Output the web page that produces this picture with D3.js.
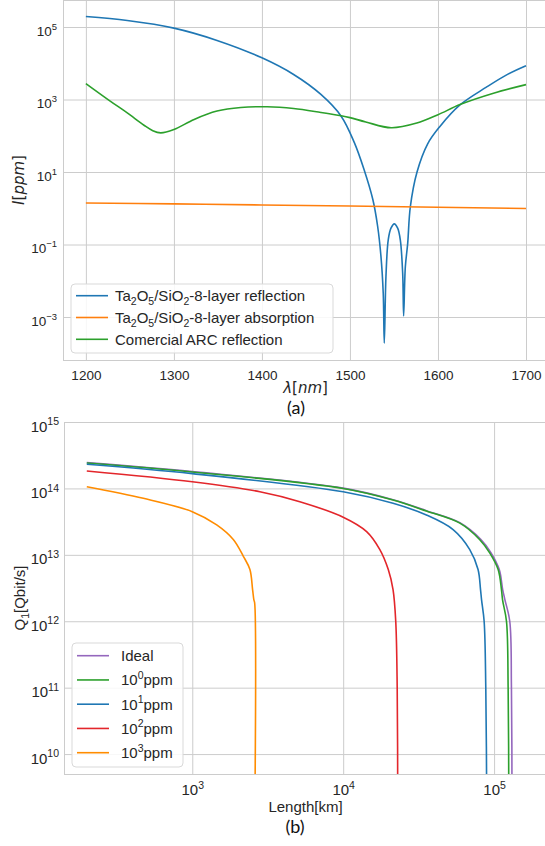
<!DOCTYPE html>
<html>
<head>
<meta charset="utf-8">
<script src="https://cdn.jsdelivr.net/npm/d3@7"></script>
<style>
  body { margin: 0; background: #fff; }
  svg { display: block; font-family: "Liberation Sans", Arial, sans-serif; }
</style>
</head>
<body>
<svg id="chart"></svg>
<script>
// ---- data, chart (a): wavelength in nm, values in ppm
const reflWl = [1200, 1247, 1300, 1349, 1400, 1436, 1467, 1490, 1505, 1516, 1526, 1531.4, 1535.2, 1537.8, 1539,
  1540.9, 1543.5, 1546.6, 1550.4, 1554.2, 1557.2, 1559.9, 1561, 1562.9, 1565.6, 1568.6, 1576.2, 1588.3, 1602, 1625, 1655, 1678, 1700];
const reflVal = [1.95e5, 1.51e5, 9.33e4, 4.27e4, 1.41e4, 4.9e3, 1.38e3, 347, 64.6, 11.7, 1.74, 0.324, 0.0479, 0.00457, 1.9e-4,
  0.0132, 0.135, 0.282, 0.372, 0.282, 0.135, 0.0162, 0.00107, 0.024, 0.107, 1.1, 10, 60, 178, 708, 2188, 4786, 8511];

const absWl = [1200, 1300, 1400, 1500, 1600, 1700];
const absVal = [1.40, 1.32, 1.23, 1.15, 1.07, 0.98];

const arcWl = [1200, 1228, 1247, 1266, 1276, 1285, 1300, 1323, 1349, 1376, 1406, 1436, 1467, 1490, 1500, 1518, 1547, 1576, 1600, 1625, 1664, 1700];
const arcVal = [2754, 891, 427, 195, 138, 120, 148, 282, 479, 603, 631, 562, 437, 355, 316, 240, 166, 224, 380, 724, 1514, 2570];

const topLabels = ["Ta|2|O|5|/SiO|2|-8-layer reflection", "Ta|2|O|5|/SiO|2|-8-layer absorption", "Comercial ARC reflection"];
const topColors = ["#1f77b4", "#ff7f0e", "#2ca02c"];
const topXTicks = [1200, 1300, 1400, 1500, 1600, 1700];
const topYExp = [-3, -1, 1, 3, 5];

// ---- data, chart (b): length in km, Q1 in Qbit/s
const idealL = [200, 1000, 1e4, 21400, 35600, 59300, 81500, 95000, 108200, 114000, 118000, 127000, 130300, 131500];
const idealQ = [2.45e14, 1.79e14, 1.01e14, 6.75e13, 4.62e13, 3.05e13, 1.72e13, 1.09e13, 6.0e12, 3.0e12, 2.1e12, 1e12, 1e11, 1e9];

const ppm0L = [200, 1000, 1e4, 21400, 35600, 59300, 80400, 93500, 106400, 111900, 113800, 120800, 123900, 125300];
const ppm0Q = [2.41e14, 1.77e14, 1.0e14, 6.7e13, 4.57e13, 3.0e13, 1.69e13, 1.07e13, 6.0e12, 3.0e12, 2.1e12, 1e12, 1e11, 1e9];

const ppm1L = [200, 1000, 1e4, 21400, 35600, 53500, 69000, 78300, 81300, 82600, 85900, 88100, 89500];
const ppm1Q = [2.31e14, 1.67e14, 8.9e13, 5.97e13, 3.98e13, 2.4e13, 1.2e13, 6.0e12, 3.0e12, 2.1e12, 1e12, 1e11, 1e9];

const ppm2L = [200, 1000, 2805, 5160, 1e4, 14300, 17500, 19900, 21400, 22300, 22800, 23000];
const ppm2Q = [1.83e14, 1.26e14, 8.9e13, 6.3e13, 3.69e13, 2.24e13, 1.2e13, 6.0e12, 3.0e12, 1e12, 1e11, 1e9];

const ppm3L = [200, 474, 1000, 1452, 1870, 2180, 2410, 2510, 2560, 2590, 2595];
const ppm3Q = [1.06e14, 7.1e13, 4.47e13, 2.82e13, 1.7e13, 9.5e12, 6.0e12, 3.0e12, 2.1e12, 1.9e12, 1e9];

const botLabels = ["Ideal", "0", "1", "2", "3"];
const botColors = ["#9467bd", "#2ca02c", "#1f77b4", "#e3262b", "#ff8c00"];
const botXExp = [3, 4, 5];
const botYExp = [10, 11, 12, 13, 14, 15];

const gridColor = "#cccccc";

const svg = d3.select("#chart")
    .attr("width", 545)
    .attr("height", 846);

function zipData(xs, ys) {
    return xs.map((x, i) => ({ x: x, y: ys[i] }));
}

function powText(sel, exp, size) {
    sel.append("tspan").text("10");
    sel.append("tspan")
        .attr("dy", -0.42 * size)
        .attr("font-size", size * 0.7)
        .text(String(exp).replace("-", "\u2212"));
}

// ================= chart (a) =================
const x1 = d3.scaleLinear().domain([1174, 1725]).range([63, 548]);
const y1 = d3.scaleLog().domain([Math.pow(10, -4.186), Math.pow(10, 5.745)]).range([360, 0]);

const gTop = svg.append("g");

gTop.append("clipPath").attr("id", "clipA")
    .append("rect").attr("x", 63).attr("y", 0).attr("width", 485).attr("height", 360);

// grid
const gxA = gTop.append("g")
    .attr("transform", "translate(0,360)")
    .call(d3.axisBottom(x1).tickValues(topXTicks).tickSize(-360).tickFormat(""));
const gyA = gTop.append("g")
    .attr("transform", "translate(63,0)")
    .call(d3.axisLeft(y1).tickValues(topYExp.map(e => Math.pow(10, e))).tickSize(-485).tickFormat(""));
[gxA, gyA].forEach(g => {
    g.select(".domain").remove();
    g.selectAll(".tick line").attr("stroke", gridColor).attr("stroke-width", 1);
});

// tick labels
gxA.selectAll(".tick").append("text")
    .attr("y", 20)
    .attr("fill", "#262626")
    .attr("font-size", 13.5)
    .attr("text-anchor", "middle")
    .text(d => d);
gyA.selectAll(".tick").append("text")
    .attr("x", -6)
    .attr("y", 8)
    .attr("fill", "#262626")
    .attr("font-size", 13.5)
    .attr("text-anchor", "end")
    .each(function(d) { powText(d3.select(this), Math.round(Math.log10(d)), 13.5); });

// spines
gTop.append("line").attr("x1", 63.5).attr("x2", 63.5).attr("y1", 0).attr("y2", 360).attr("stroke", gridColor);
gTop.append("line").attr("x1", 63).attr("x2", 548).attr("y1", 360.5).attr("y2", 360.5).attr("stroke", gridColor);
gTop.append("line").attr("x1", 63).attr("x2", 548).attr("y1", 0.5).attr("y2", 0.5).attr("stroke", gridColor);

const lineA = d3.line()
    .x(d => x1(d.x))
    .y(d => y1(d.y))
    .curve(d3.curveCatmullRom.alpha(0.5));

const topSeries = [zipData(reflWl, reflVal), zipData(absWl, absVal), zipData(arcWl, arcVal)];
topSeries.forEach((s, i) => {
    gTop.append("path")
        .datum(s)
        .attr("d", lineA)
        .attr("clip-path", "url(#clipA)")
        .attr("fill", "none")
        .attr("stroke", topColors[i])
        .attr("stroke-width", 1.6);
});

// axis labels
gTop.append("text")
    .attr("transform", "translate(24,180) rotate(-90)")
    .attr("text-anchor", "middle")
    .attr("font-family", "DejaVu Sans")
    .attr("font-size", 15)
    .attr("fill", "#262626")
    .call(t => {
        t.append("tspan").attr("font-style", "italic").text("I");
        t.append("tspan").text("[");
        t.append("tspan").attr("font-style", "italic").text("ppm");
        t.append("tspan").text("]");
    });

gTop.append("text")
    .attr("x", 305.5)
    .attr("y", 393)
    .attr("text-anchor", "middle")
    .attr("font-family", "DejaVu Sans")
    .attr("font-size", 15)
    .attr("fill", "#262626")
    .call(t => {
        t.append("tspan").attr("font-style", "italic").text("\u03bb");
        t.append("tspan").text("[");
        t.append("tspan").attr("font-style", "italic").text("nm");
        t.append("tspan").text("]");
    });

svg.append("text")
    .attr("x", 296)
    .attr("y", 414)
    .attr("text-anchor", "middle")
    .attr("font-family", "Lato, 'Open Sans', sans-serif")
    .attr("font-size", 18)
    .attr("fill", "#111")
    .text("(a)");

// legend (a)
const legA = gTop.append("g");
legA.append("rect")
    .attr("x", 71).attr("y", 284).attr("width", 262).attr("height", 69)
    .attr("rx", 4)
    .attr("fill", "#fff").attr("fill-opacity", 0.85)
    .attr("stroke", "#d9d9d9");
topLabels.forEach((lab, i) => {
    const yy = 295.7 + i * 21.8;
    legA.append("line")
        .attr("x1", 76).attr("x2", 108).attr("y1", yy).attr("y2", yy)
        .attr("stroke", topColors[i]).attr("stroke-width", 1.6);
    const t = legA.append("text")
        .attr("x", 115).attr("y", yy + 5.5)
        .attr("font-size", 15)
        .attr("fill", "#262626");
    lab.split("|").forEach((part, k) => {
        if (k % 2 === 1) {
            t.append("tspan").attr("dy", 3.5).attr("font-size", 10.5).text(part);
        } else {
            const sp = t.append("tspan").text(part);
            if (k > 0) sp.attr("dy", -3.5);
        }
    });
});

// ================= chart (b) =================
const x2 = d3.scaleLog().domain([Math.pow(10, 2.15), Math.pow(10, 5.45)]).range([64, 562]);
const y2 = d3.scaleLog().domain([Math.pow(10, 9.7), 1e15]).range([774, 422]);

const gBot = svg.append("g");

gBot.append("clipPath").attr("id", "clipB")
    .append("rect").attr("x", 64).attr("y", 422).attr("width", 498).attr("height", 352);

const gxB = gBot.append("g")
    .attr("transform", "translate(0,774)")
    .call(d3.axisBottom(x2).tickValues(botXExp.map(e => Math.pow(10, e))).tickSize(-352).tickFormat(""));
const gyB = gBot.append("g")
    .attr("transform", "translate(64,0)")
    .call(d3.axisLeft(y2).tickValues(botYExp.map(e => Math.pow(10, e))).tickSize(-498).tickFormat(""));
[gxB, gyB].forEach(g => {
    g.select(".domain").remove();
    g.selectAll(".tick line").attr("stroke", gridColor).attr("stroke-width", 1);
});

gxB.selectAll(".tick").append("text")
    .attr("y", 21)
    .attr("fill", "#262626")
    .attr("font-size", 15)
    .attr("text-anchor", "middle")
    .each(function(d) { powText(d3.select(this), Math.round(Math.log10(d)), 15); });
gyB.selectAll(".tick").append("text")
    .attr("x", -5)
    .attr("y", 9)
    .attr("fill", "#262626")
    .attr("font-size", 15)
    .attr("text-anchor", "end")
    .each(function(d) { powText(d3.select(this), Math.round(Math.log10(d)), 15); });

gBot.append("line").attr("x1", 64.5).attr("x2", 64.5).attr("y1", 422).attr("y2", 774).attr("stroke", gridColor);
gBot.append("line").attr("x1", 64).attr("x2", 562).attr("y1", 774.5).attr("y2", 774.5).attr("stroke", gridColor);
gBot.append("line").attr("x1", 64).attr("x2", 562).attr("y1", 422.5).attr("y2", 422.5).attr("stroke", gridColor);

const lineB = d3.line()
    .x(d => x2(d.x))
    .y(d => y2(d.y))
    .curve(d3.curveCatmullRom.alpha(0.5));

const botSeries = [zipData(idealL, idealQ), zipData(ppm0L, ppm0Q), zipData(ppm1L, ppm1Q), zipData(ppm2L, ppm2Q), zipData(ppm3L, ppm3Q)];
botSeries.forEach((s, i) => {
    gBot.append("path")
        .datum(s)
        .attr("d", lineB)
        .attr("clip-path", "url(#clipB)")
        .attr("fill", "none")
        .attr("stroke", botColors[i])
        .attr("stroke-width", 1.6);
});

gBot.append("text")
    .attr("transform", "translate(25,598) rotate(-90)")
    .attr("text-anchor", "middle")
    .attr("font-size", 15)
    .attr("fill", "#262626")
    .call(t => {
        t.append("tspan").text("Q");
        t.append("tspan").attr("dy", 3.5).attr("font-size", 10.5).text("1");
        t.append("tspan").attr("dy", -3.5).text("[Qbit/s]");
    });

gBot.append("text")
    .attr("x", 305.5)
    .attr("y", 812)
    .attr("text-anchor", "middle")
    .attr("font-size", 15)
    .attr("fill", "#262626")
    .text("Length[km]");

svg.append("text")
    .attr("x", 295)
    .attr("y", 833)
    .attr("text-anchor", "middle")
    .attr("font-family", "Lato, 'Open Sans', sans-serif")
    .attr("font-size", 18)
    .attr("fill", "#111")
    .text("(b)");

// legend (b)
const legB = gBot.append("g");
legB.append("rect")
    .attr("x", 72).attr("y", 643).attr("width", 111).attr("height", 124)
    .attr("rx", 4)
    .attr("fill", "#fff").attr("fill-opacity", 0.85)
    .attr("stroke", "#d9d9d9");
botLabels.forEach((lab, i) => {
    const yy = 655.7 + i * 24.25;
    legB.append("line")
        .attr("x1", 77).attr("x2", 109).attr("y1", yy).attr("y2", yy)
        .attr("stroke", botColors[i]).attr("stroke-width", 1.6);
    const t = legB.append("text")
        .attr("x", 121).attr("y", yy + 5.5)
        .attr("font-size", 15)
        .attr("fill", "#262626");
    if (i === 0) {
        t.text(lab);
    } else {
        t.append("tspan").text("10");
        t.append("tspan").attr("dy", -6.5).attr("font-size", 10.5).text(lab);
        t.append("tspan").attr("dy", 6.5).text("ppm");
    }
});
</script>
</body>
</html>
